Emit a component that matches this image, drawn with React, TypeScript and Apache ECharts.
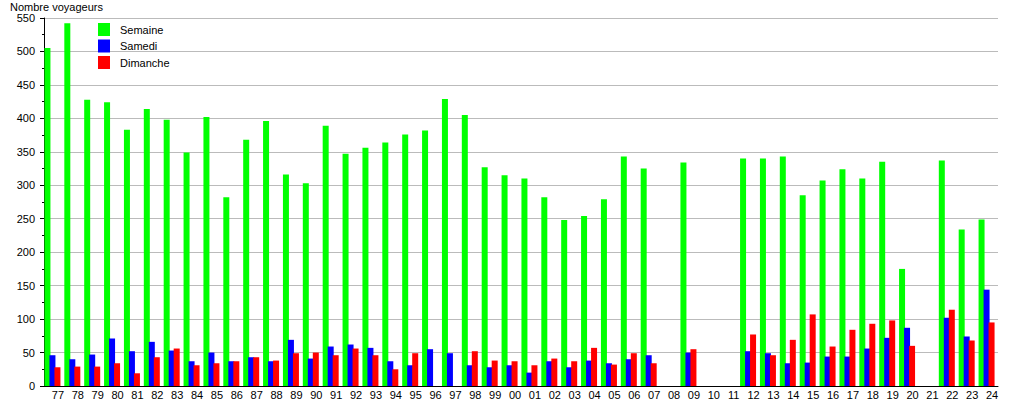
import React, { useEffect, useRef } from "react";
import * as echarts from "echarts";

const categories = ["77","78","79","80","81","82","83","84","85","86","87","88","89","90","91","92","93","94","95","96","97","98","99","00","01","02","03","04","05","06","07","08","09","10","11","12","13","14","15","16","17","18","19","20","21","22","23","24"];

const semaine = [505,542,428,424,383,414,398,349,402,282,368,396,316,303,389,347,356,364,376,382,429,405,327,315,310,282,248,254,279,343,325,null,334,null,null,340,340,343,285,307,324,310,335,175,null,337,234,249];
const samedi = [46,40,47,71,52,66,53,37,50,37,43,37,69,41,59,62,57,37,31,55,49,31,28,31,20,37,28,38,34,40,46,null,50,null,null,52,49,34,35,44,44,56,72,87,null,102,74,144];
const dimanche = [28,29,29,34,19,43,56,31,34,37,43,38,49,50,46,56,46,25,49,null,null,52,38,37,31,41,37,57,32,49,34,null,55,null,null,77,46,69,107,59,84,93,98,60,null,114,68,95];

const yTicks = { min: 0, max: 550, step: 50 };

export default function App() {
  const ref = useRef<HTMLDivElement>(null);
  useEffect(() => {
    if (!ref.current) return;
    const chart = echarts.init(ref.current, null, { renderer: "svg" });
    const font = "'Liberation Sans', Arial, sans-serif";
    const mk = (name: string, data: (number | null)[], color: string, w: number) => ({
      name,
      type: "bar",
      data,
      itemStyle: { color },
      barWidth: w,
      barGap: "-16.667%",
    });
    chart.setOption({
      animation: false,
      backgroundColor: "#ffffff",
      textStyle: { fontFamily: font },
      title: {
        text: "Nombre voyageurs",
        left: 10,
        top: 1,
        padding: 0,
        textStyle: { fontSize: 11, fontWeight: "normal", color: "#000", fontFamily: font },
      },
      legend: {
        data: ["Semaine", "Samedi", "Dimanche"],
        orient: "vertical",
        left: 98,
        top: 23,
        padding: 0,
        itemWidth: 12,
        itemHeight: 13,
        itemGap: 3.5,
        icon: "rect",
        textStyle: { fontSize: 11, color: "#000", fontFamily: font, padding: [0, 0, 0, 5] },
      },
      grid: { left: 44, right: 17, top: 18, bottom: 13, containLabel: false },
      xAxis: {
        type: "category",
        data: categories,
        axisLine: { lineStyle: { color: "#000", width: 1 } },
        axisTick: { show: false },
        axisLabel: { color: "#000", fontSize: 11, margin: 3, interval: 0, fontFamily: font, padding: [0, 0, 0, 8] },
        splitLine: { show: false },
      },
      yAxis: {
        type: "value",
        min: yTicks.min,
        max: yTicks.max,
        interval: yTicks.step,
        axisLine: { show: true, lineStyle: { color: "#000", width: 1 } },
        axisTick: { show: true, inside: false, length: 4, lineStyle: { color: "#000" } },
        minorTick: { show: true, splitNumber: 2, length: 2, lineStyle: { color: "#000" } },
        axisLabel: { color: "#000", fontSize: 11, margin: 9, fontFamily: font },
        splitLine: { show: true, lineStyle: { color: "#bbbbbb", width: 1 } },
      },
      series: [
        mk("Semaine", semaine, "#00ff00", 6),
        mk("Samedi", samedi, "#0000ff", 6),
        mk("Dimanche", dimanche, "#ff0000", 6),
        mk("_spacer", categories.map(() => null), "transparent", 4),
      ],
    });
    return () => chart.dispose();
  }, []);
  return (
    <div
      ref={ref}
      style={{ position: "absolute", left: 0, top: 0, width: 1015, height: 400 }}
    />
  );
}
